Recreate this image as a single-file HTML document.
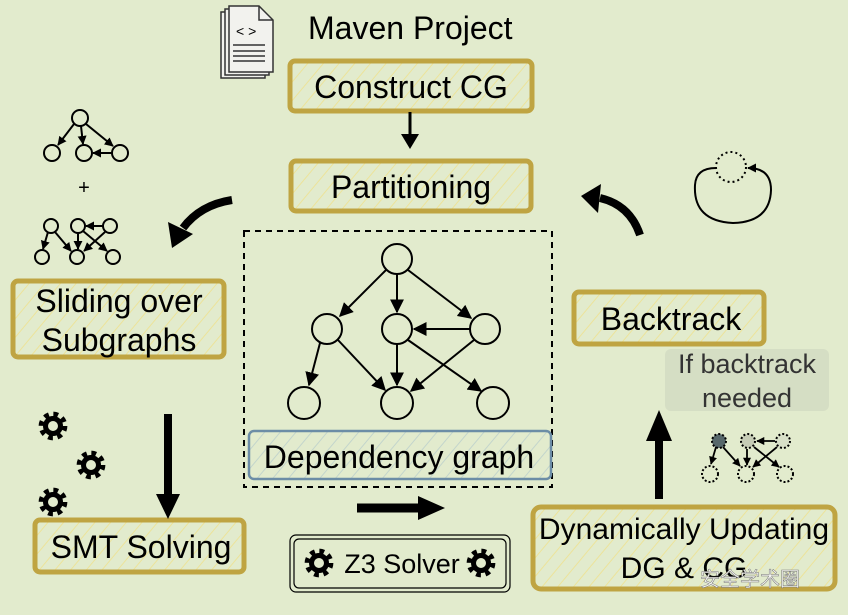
<!DOCTYPE html>
<html><head><meta charset="utf-8"><style>
html,body{margin:0;padding:0;background:#e2ebcd;}
svg{display:block;}
text{font-family:"Liberation Sans","Noto Sans CJK SC",sans-serif;fill:#000;}
</style></head><body>
<svg width="848" height="615" viewBox="0 0 848 615" xmlns="http://www.w3.org/2000/svg">
<defs>
<pattern id="h" width="12" height="12" patternUnits="userSpaceOnUse" patternTransform="rotate(40)">
<line x1="0" y1="0" x2="0" y2="12" stroke="#ece39a" stroke-width="2"/></pattern>
<pattern id="hb" width="12" height="12" patternUnits="userSpaceOnUse" patternTransform="rotate(40)">
<line x1="0" y1="0" x2="0" y2="12" stroke="#c3d5cc" stroke-width="2"/></pattern>
<marker id="a" viewBox="0 0 10 10" refX="9" refY="5" markerWidth="7" markerHeight="7" orient="auto"><path d="M0,0 L10,5 L0,10 z" fill="#000"/></marker>
<marker id="s" viewBox="0 0 10 10" refX="9" refY="5" markerWidth="4.5" markerHeight="4.5" orient="auto"><path d="M0,0 L10,5 L0,10 z" fill="#000"/></marker>
<g id="gear"><circle r="9" fill="none" stroke="#000" stroke-width="5" stroke-dasharray="3.6 3.47"/><circle r="6" fill="none" stroke="#000" stroke-width="4"/></g>
</defs>
<rect width="848" height="615" fill="#e2ebcd"/>

<!-- doc icon -->
<g fill="#f2f2ee" stroke="#333" stroke-width="1.5">
<path d="M221,12 h30 l14,14 v52 h-44 z"/>
<path d="M225,9 h30 l14,14 v52 h-44 z"/>
<path d="M229,6 h30 l14,14 v52 h-44 z"/>
</g>
<path d="M259,6 v14 h14" fill="none" stroke="#333" stroke-width="1.5"/>
<text x="236" y="36" font-size="14">&lt; &gt;</text>
<g stroke="#333" stroke-width="1.5"><line x1="233" y1="45" x2="265" y2="45"/><line x1="233" y1="51" x2="265" y2="51"/><line x1="233" y1="56" x2="265" y2="56"/><line x1="233" y1="61" x2="265" y2="61"/></g>
<text x="308" y="39" font-size="32">Maven Project</text>

<!-- boxes -->
<g stroke="#bfa442" stroke-width="5" fill="url(#h)">
<rect x="290" y="61" width="242" height="50" rx="5"/>
<rect x="291" y="161" width="240" height="50" rx="5"/>
<rect x="13" y="281" width="211" height="76" rx="5"/>
<rect x="35" y="520" width="209" height="52" rx="5"/>
<rect x="574" y="292" width="190" height="52" rx="5"/>
<rect x="533" y="507" width="302" height="82" rx="8"/>
</g>
<text x="411" y="98" font-size="32" text-anchor="middle">Construct CG</text>
<text x="411" y="198" font-size="32" text-anchor="middle">Partitioning</text>
<text x="119" y="312" font-size="32" text-anchor="middle">Sliding over</text>
<text x="119" y="351" font-size="32" text-anchor="middle">Subgraphs</text>
<text x="141" y="558" font-size="32" text-anchor="middle">SMT Solving</text>
<text x="671" y="330" font-size="32" text-anchor="middle">Backtrack</text>
<text x="684" y="539" font-size="30" text-anchor="middle">Dynamically Updating</text>
<text x="684" y="578" font-size="30" text-anchor="middle">DG &amp; CG</text>

<!-- arrow construct -> partitioning -->
<line x1="410" y1="112" x2="410" y2="136" stroke="#000" stroke-width="3"/>
<path d="M401,134 L419,134 L410,149 z" fill="#000"/>

<!-- dashed dg box -->
<rect x="244" y="231" width="308" height="256" fill="none" stroke="#000" stroke-width="2" stroke-dasharray="6 5"/>
<g fill="none" stroke="#000" stroke-width="2">
<circle cx="397" cy="259" r="15"/>
<circle cx="327" cy="329" r="15"/><circle cx="397" cy="329" r="15"/><circle cx="485" cy="329" r="15"/>
<circle cx="304" cy="403" r="16"/><circle cx="397" cy="403" r="16"/><circle cx="493" cy="403" r="16"/>
<line x1="386" y1="270" x2="340" y2="316" marker-end="url(#a)"/>
<line x1="397" y1="274" x2="397" y2="312" marker-end="url(#a)"/>
<line x1="408" y1="270" x2="471" y2="318" marker-end="url(#a)"/>
<line x1="470" y1="329" x2="414" y2="329" marker-end="url(#a)"/>
<line x1="320" y1="343" x2="309" y2="385" marker-end="url(#a)"/>
<line x1="338" y1="340" x2="385" y2="390" marker-end="url(#a)"/>
<line x1="397" y1="344" x2="397" y2="385" marker-end="url(#a)"/>
<line x1="474" y1="340" x2="411" y2="391" marker-end="url(#a)"/>
<line x1="408" y1="340" x2="481" y2="391" marker-end="url(#a)"/>
</g>
<rect x="249" y="431" width="302" height="48" rx="5" fill="url(#hb)" stroke="#6c8da6" stroke-width="2.5"/>
<text x="399" y="468" font-size="32" text-anchor="middle">Dependency graph</text>

<!-- left small graphs -->
<g fill="none" stroke="#000" stroke-width="2">
<circle cx="80" cy="118" r="8"/><circle cx="52" cy="153" r="8"/><circle cx="84" cy="153" r="8"/><circle cx="120" cy="153" r="8"/>
<line x1="74" y1="124" x2="58" y2="145" marker-end="url(#s)"/>
<line x1="81" y1="126" x2="83" y2="144" marker-end="url(#s)"/>
<line x1="86" y1="124" x2="113" y2="146" marker-end="url(#s)"/>
<line x1="112" y1="153" x2="93" y2="153" marker-end="url(#s)"/>
<circle cx="51" cy="226" r="7"/><circle cx="78" cy="226" r="7"/><circle cx="110" cy="226" r="7"/>
<circle cx="42" cy="257" r="7"/><circle cx="77" cy="257" r="7"/><circle cx="113" cy="257" r="7"/>
<line x1="48" y1="232" x2="43" y2="249" marker-end="url(#s)"/>
<line x1="55" y1="232" x2="71" y2="251" marker-end="url(#s)"/>
<line x1="78" y1="233" x2="78" y2="249" marker-end="url(#s)"/>
<line x1="103" y1="226" x2="86" y2="226" marker-end="url(#s)"/>
<line x1="105" y1="232" x2="84" y2="251" marker-end="url(#s)"/>
<line x1="83" y1="231" x2="107" y2="251" marker-end="url(#s)"/>
</g>
<text x="84" y="194" font-size="20" text-anchor="middle">+</text>

<!-- curved arrow left -->
<path d="M232,200 Q200,205 183,228" fill="none" stroke="#000" stroke-width="8"/>
<path d="M168,222 L193,234 L172,248 z" fill="#000"/>

<!-- gears -->
<use href="#gear" transform="translate(53,426) scale(1.25)"/><use href="#gear" transform="translate(91,465) scale(1.25)"/><use href="#gear" transform="translate(53,502) scale(1.25)"/>

<!-- down arrow -->
<line x1="168" y1="414" x2="168" y2="495" stroke="#000" stroke-width="8"/>
<path d="M156,494 L180,494 L168,519 z" fill="#000"/>

<!-- right arrow -->
<line x1="357" y1="508" x2="420" y2="508" stroke="#000" stroke-width="9"/>
<path d="M418,496 L445,508 L418,520 z" fill="#000"/>

<!-- Z3 -->
<rect x="290" y="535" width="220" height="57" rx="6" fill="none" stroke="#000" stroke-width="1.2"/>
<rect x="294" y="539" width="212" height="49" rx="5" fill="none" stroke="#000" stroke-width="1.2"/>
<use href="#gear" transform="translate(319,563) scale(1.25)"/><use href="#gear" transform="translate(481,563) scale(1.25)"/>
<text x="402" y="573" font-size="27" text-anchor="middle">Z3 Solver</text>

<!-- up arrow -->
<line x1="659" y1="440" x2="659" y2="499" stroke="#000" stroke-width="8"/>
<path d="M646,441 L672,441 L659,410 z" fill="#000"/>

<!-- if backtrack -->
<rect x="665" y="349" width="164" height="62" rx="6" fill="#d5dec4"/>
<text x="747" y="373" font-size="27" text-anchor="middle" style="fill:#333">If backtrack</text>
<text x="747" y="407" font-size="27" text-anchor="middle" style="fill:#333">needed</text>

<!-- dotted graph right -->
<g stroke="#000" stroke-width="2" stroke-dasharray="2 2">
<circle cx="719" cy="441" r="7" fill="#56676a"/>
<circle cx="748" cy="441" r="7" fill="#c6ccb6"/>
<circle cx="783" cy="441" r="7" fill="#d8e0c8"/>
<circle cx="710" cy="474" r="8" fill="none"/><circle cx="746" cy="474" r="8" fill="none"/><circle cx="785" cy="474" r="8" fill="none"/>
</g>
<g fill="none" stroke="#000" stroke-width="1.8">
<line x1="716" y1="447" x2="711" y2="464" marker-end="url(#s)"/>
<line x1="723" y1="447" x2="740" y2="466" marker-end="url(#s)"/>
<line x1="747" y1="449" x2="747" y2="465" marker-end="url(#s)"/>
<line x1="775" y1="441" x2="757" y2="441" marker-end="url(#s)"/>
<line x1="777" y1="447" x2="753" y2="467" marker-end="url(#s)"/>
<line x1="754" y1="447" x2="779" y2="467" marker-end="url(#s)"/>
</g>

<!-- curved arrow right top -->
<path d="M640,235 Q630,205 600,198" fill="none" stroke="#000" stroke-width="8"/>
<path d="M581,196 L601,184 L598,213 z" fill="#000"/>

<!-- loop -->
<circle cx="731" cy="167" r="15" fill="none" stroke="#000" stroke-width="2" stroke-dasharray="2 3"/>
<path d="M716,168 Q696,168 695,185 Q693,221 733,223 Q770,222 771,190 Q771,168 748,168" fill="none" stroke="#000" stroke-width="2" marker-end="url(#s)"/>

<!-- watermark -->
<text x="700" y="586" font-size="20" style="fill:#f4f4f0;stroke:#777;stroke-width:0.5">安全学术圈</text>
</svg>
</body></html>
